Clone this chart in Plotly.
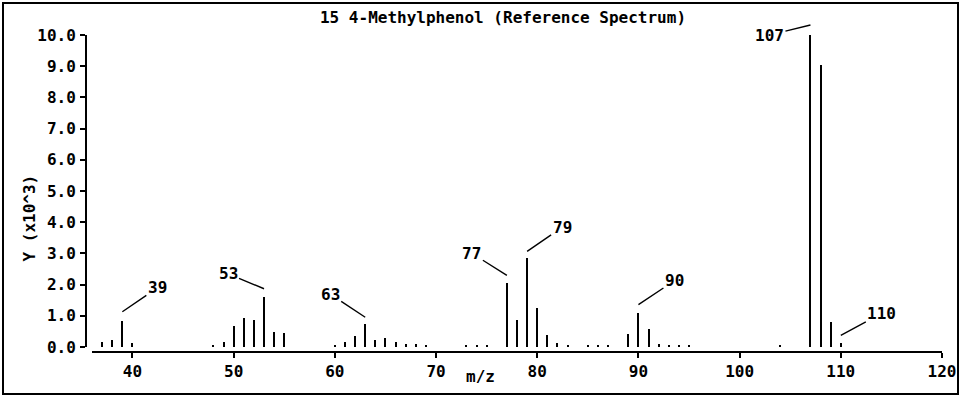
import plotly.graph_objects as go

# ---- data ----
mz = [37, 38, 39, 40, 48, 49, 50, 51, 52, 53, 54, 55, 60, 61, 62, 63, 64, 65, 66, 67, 68, 69,
      73, 74, 75, 77, 78, 79, 80, 81, 82, 83, 85, 86, 87, 89, 90, 91, 92, 93, 94, 95,
      104, 107, 108, 109, 110]
intensity = [0.17, 0.22, 0.84, 0.12, 0.05, 0.17, 0.67, 0.93, 0.87, 1.61, 0.49, 0.44,
             0.05, 0.16, 0.35, 0.73, 0.22, 0.30, 0.17, 0.11, 0.10, 0.07,
             0.06, 0.08, 0.06, 2.04, 0.87, 2.84, 1.24, 0.38, 0.12, 0.06,
             0.06, 0.07, 0.07, 0.42, 1.10, 0.57, 0.10, 0.06, 0.06, 0.06,
             0.06, 10.0, 9.04, 0.79, 0.12]
labeled_peaks = [39, 53, 63, 77, 79, 90, 107, 110]
x_ticks = [40, 50, 60, 70, 80, 90, 100, 110, 120]
y_ticks = [0, 1, 2, 3, 4, 5, 6, 7, 8, 9, 10]
title_text = "15 4-Methylphenol (Reference Spectrum)"
x_title = "m/z"
y_title = "Y (x10^3)"

# ---- label offsets (px): text centre relative to leader-line tip ----
label_style = {
    39: (35, -24, 9), 53: (-36, -15, 8), 63: (-35, -23, 7), 77: (-35, -22, 8),
    79: (35, -24, 7), 90: (36, -24, 8), 107: (-41, 10, 10), 110: (41, -22, 8),
}

W, H = 961, 397
L, R, T, B = 86, 19, 35, 45
FONT = "DejaVu Sans Mono"
FS = 16
WEIGHT = "bold"

def tfont(size=FS):
    return dict(family=FONT, size=size, color="black", weight=WEIGHT)

fig = go.Figure()
fig.add_trace(go.Bar(x=mz, y=intensity, width=0.2,
                     marker=dict(color="black", line=dict(width=0)),
                     hoverinfo="x+y"))

val = dict(zip(mz, intensity))
for p in labeled_peaks:
    ax, ay, ys = label_style[p]
    fig.add_annotation(x=p, y=val[p], xref="x", yref="y", text=str(p),
                       showarrow=True, arrowhead=0, arrowwidth=1.4, arrowcolor="black",
                       ax=ax, ay=ay, yshift=ys, standoff=0, font=tfont())

plot_w = W - L - R
plot_h = H - T - B

# axis titles
fig.add_annotation(x=(480 - L) / plot_w, y=0, xref="paper", yref="paper",
                   text=x_title, showarrow=False, yshift=-36, font=tfont())
fig.add_annotation(x=0, y=(H - B - 218) / plot_h, xref="paper", yref="paper",
                   text=y_title, showarrow=False, xshift=17 - L, textangle=-90,
                   font=tfont())

# axis lines (separate, not touching, like the original)
fig.add_shape(type="line", xref="x", yref="paper", x0=36, x1=120, y0=0, y1=0,
              line=dict(color="black", width=2))
fig.add_shape(type="line", xref="paper", yref="y", x0=0, x1=0, y0=0, y1=10,
              line=dict(color="black", width=2))

# outer frame
fig.add_shape(type="rect", xref="paper", yref="paper",
              x0=(3 - L) / plot_w, x1=(958 - L) / plot_w,
              y0=(H - B - 394) / plot_h, y1=(H - B - 3) / plot_h,
              line=dict(color="black", width=2))

fig.update_layout(
    width=W, height=H,
    margin=dict(l=L, r=R, t=T, b=B, autoexpand=False),
    paper_bgcolor="white", plot_bgcolor="white",
    showlegend=False,
    title=dict(text=title_text, x=503 / W, xanchor="center", y=1 - 17 / H, yanchor="middle",
               font=tfont()),
    xaxis=dict(range=[36 - 6 / 10.125, 120], tickvals=x_ticks, showgrid=False, zeroline=False,
               showline=False, ticks="outside", ticklen=5, tickwidth=2, tickcolor="black",
               tickfont=tfont(), automargin=False),
    yaxis=dict(range=[-5 / 31.2, 10], tickvals=y_ticks, tickformat=".1f", showgrid=False,
               zeroline=False, showline=False, ticks="outside", ticklen=5, tickwidth=2,
               tickcolor="black", ticklabelstandoff=1, tickfont=tfont(), automargin=False),
    bargap=0,
)

fig.write_html("out.html", config={"displayModeBar": False},
               post_script="document.body.style.margin='0';document.body.style.overflow='hidden';")
